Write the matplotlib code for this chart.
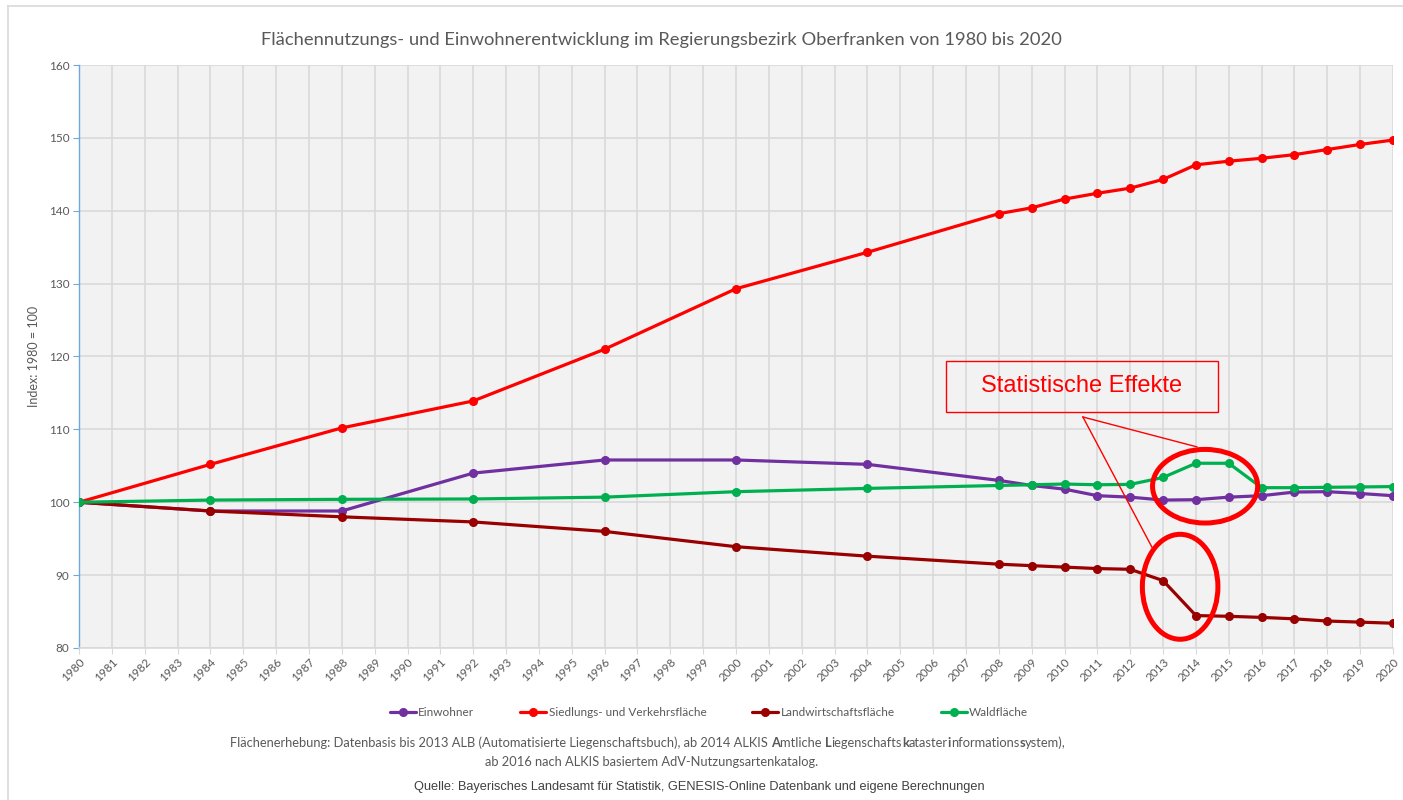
#!/usr/bin/env python3
import matplotlib
matplotlib.use("Agg")
import matplotlib.pyplot as plt
from matplotlib.patches import Ellipse, Rectangle
from matplotlib.lines import Line2D

# Jahre mit Messwerten (Kategorieachse 1980..2020)
years = [1980, 1984, 1988, 1992, 1996, 2000, 2004, 2008, 2009, 2010, 2011,
         2012, 2013, 2014, 2015, 2016, 2017, 2018, 2019, 2020]
all_years = list(range(1980, 2021))

einwohner = [100.0, 98.8, 98.8, 104.0, 105.8, 105.8, 105.2, 103.0, 102.3, 101.8, 100.9,
             100.7, 100.3, 100.35, 100.7, 100.9, 101.4, 101.45, 101.2, 100.9]
siedlung = [100.0, 105.2, 110.2, 113.9, 121.0, 129.3, 134.3, 139.6, 140.4, 141.6, 142.4,
            143.1, 144.3, 146.3, 146.8, 147.2, 147.7, 148.4, 149.1, 149.7]
landwirt = [100.0, 98.8, 98.0, 97.3, 96.0, 93.9, 92.6, 91.5, 91.3, 91.1, 90.9,
            90.8, 89.25, 84.45, 84.35, 84.2, 84.0, 83.7, 83.55, 83.4]
wald = [100.0, 100.3, 100.4, 100.45, 100.7, 101.45, 101.9, 102.3, 102.4, 102.5, 102.4,
        102.45, 103.4, 105.35, 105.35, 102.0, 102.0, 102.05, 102.1, 102.15]

series = [
    ("Einwohner", einwohner, "#7030A0"),
    ("Siedlungs- und Verkehrsfläche", siedlung, "#FF0000"),
    ("Landwirtschaftsfläche", landwirt, "#990000"),
    ("Waldfläche", wald, "#00B050"),
]

# Fußnote: (Text, Schriftstärke)
footnote_parts = [
    ("Flächenerhebung: Datenbasis bis 2013 ALB (Automatisierte Liegenschaftsbuch), ab 2014 ALKIS ", "normal"),
    ("A", "bold"), ("mtliche ", "normal"), ("L", "bold"), ("iegenschafts", "normal"),
    ("k", "bold"), ("ataster", "normal"), ("i", "bold"), ("nformations", "normal"),
    ("s", "bold"), ("ystem),", "normal"),
]

GRAY = "#595959"
BODY = "Lato"
RED = "#FF0000"


def main():
    fig = plt.figure(figsize=(14.03, 8.0), dpi=100)
    ax = fig.add_axes([79 / 1403, 1 - 648 / 800, (1393 - 79) / 1403, (648 - 65) / 800])
    ax.set_facecolor("#F2F2F2")

    for name, vals, col in series:
        ax.plot(years, vals, color=col, lw=2.3, marker="o", ms=5.5, label=name,
                solid_capstyle="round", zorder=3)

    ax.set_xlim(1980, 2020)
    ax.set_ylim(80, 160)
    ax.set_xticks(all_years)
    ax.set_xticklabels([str(y) for y in all_years], rotation=45, ha="right",
                       rotation_mode="anchor", fontsize=8.5, color=GRAY, family=BODY)
    ax.set_yticks(range(80, 161, 10))
    ax.set_yticklabels([str(v) for v in range(80, 161, 10)], fontsize=8.5,
                       color=GRAY, family=BODY)
    ax.grid(True, color="#D9D9D9", lw=1.2, zorder=0)
    ax.set_axisbelow(True)
    for s in ["top", "right"]:
        ax.spines[s].set_visible(False)
    ax.spines["left"].set_color("#6FA8DC")
    ax.spines["left"].set_linewidth(1.0)
    ax.spines["bottom"].set_color("#D9D9D9")
    ax.spines["bottom"].set_linewidth(1.2)
    ax.tick_params(axis="y", colors="#6FA8DC", labelcolor=GRAY, length=4, pad=3)
    ax.tick_params(axis="x", colors="#D9D9D9", labelcolor=GRAY, length=4, pad=2)
    ax.set_ylabel("Index: 1980 = 100", fontsize=9, color=GRAY, family=BODY, labelpad=6)

    # Hinweis "Statistische Effekte"
    ax.add_patch(Rectangle((1980 + 26.4, 112.4), 8.27, 7.0, fill=False,
                           ec=RED, lw=1.0, zorder=5))
    ax.text(1980 + 30.53, 115.9, "Statistische Effekte", color=RED,
            fontsize=17, family="Liberation Sans", ha="center", va="center", zorder=6)
    ax.plot([1980 + 30.56, 1980 + 34.03], [111.7, 107.6], color=RED, lw=1.0, zorder=5)
    ax.plot([1980 + 30.56, 1980 + 32.66], [111.7, 93.85], color=RED, lw=1.0, zorder=5)
    ax.add_patch(Ellipse((1980 + 34.28, 102.2), 3.2, 10.1, fill=False,
                         ec=RED, lw=3.6, zorder=6))
    ax.add_patch(Ellipse((1980 + 33.52, 88.4), 2.3, 14.4, fill=False,
                         ec=RED, lw=3.6, zorder=6))

    # Rahmen des Diagrammbereichs
    fig.add_artist(Line2D([8 / 1403, 1], [1 - 6 / 800, 1 - 6 / 800], color="#D9D9D9", lw=1.2))
    fig.add_artist(Line2D([8 / 1403, 8 / 1403], [0, 1 - 6 / 800], color="#D9D9D9", lw=1.2))

    fig.text(661 / 1403, 1 - 40 / 800,
             "Flächennutzungs- und Einwohnerentwicklung im Regierungsbezirk Oberfranken von 1980 bis 2020",
             ha="center", va="center", fontsize=13.2, color=GRAY, family=BODY)

    leg = fig.legend(loc="center", bbox_to_anchor=(709 / 1403, 1 - 713 / 800), ncol=4,
                     frameon=False, handlelength=2.2, handletextpad=0.2,
                     columnspacing=3.9, prop={"family": BODY, "size": 8.5})
    for t in leg.get_texts():
        t.set_color(GRAY)

    # Fußnote, teilweise fett: Stücke auf gemeinsamer Grundlinie nebeneinander setzen
    renderer = fig.canvas.get_renderer()
    x_px = 230.0
    base_y = 1 - 747 / 800
    for txt, w in footnote_parts:
        t = fig.text(x_px / 1403, base_y, txt, ha="left", va="baseline",
                     fontsize=9.3, color=GRAY, family=BODY, weight=w)
        x_px += t.get_window_extent(renderer).width
    fig.text(652 / 1403, 1 - 762 / 800, "ab 2016 nach ALKIS basiertem AdV-Nutzungsartenkatalog.",
             ha="center", va="center", fontsize=9.3, color=GRAY, family=BODY)
    fig.text(699 / 1403, 1 - 787 / 800,
             "Quelle: Bayerisches Landesamt für Statistik, GENESIS-Online Datenbank und eigene Berechnungen",
             ha="center", va="center", fontsize=9.2, color="#404040", family="Liberation Sans")

    fig.savefig("out.png", dpi=100)
    plt.close(fig)


if __name__ == "__main__":
    main()
